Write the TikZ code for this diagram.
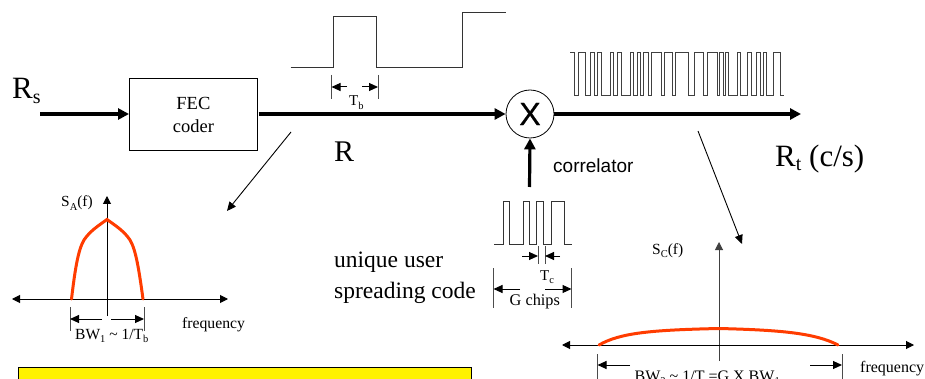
\documentclass[tikz,border=0pt]{standalone}
\usepackage{fontspec}
\setmainfont{Liberation Serif}
\newfontfamily\sansf{Liberation Sans}
\newfontfamily\xfont[FakeBold=0.6]{Liberation Sans}
\usetikzlibrary{arrows.meta}
\newcommand{\subs}[1]{\raisebox{-3.5pt}{\fontsize{10.5}{10.5}\selectfont #1}}
\tikzset{
  thick line/.style={line width=3.2pt,-{Triangle[length=11pt,width=11pt]}},
  thin arrow/.style={line width=0.9pt,-{Triangle[length=9pt,width=8pt]}},
  axis/.style={line width=1pt,{Triangle[length=8pt,width=8pt]}-{Triangle[length=8pt,width=8pt]}},
  vaxis/.style={line width=1pt,-{Triangle[length=8pt,width=8pt]}},
  dim/.style={line width=1pt,-{Triangle[length=9pt,width=8pt]}},
  tick/.style={line width=0.8pt,draw=black!70},
  wave/.style={line width=0.9pt,draw=black!80,line join=miter},
  spec/.style={line width=3pt,draw={rgb,255:red,255;green,60;blue,0},line cap=round},
  txt/.style={inner sep=0pt,font=\fontsize{#1}{#1}\selectfont},
}
\begin{document}
\begin{tikzpicture}[x=1pt,y=-1pt]
\useasboundingbox (0,0) rectangle (925,379);
\begin{scope}
\clip (0,0) rectangle (925,379);
% main nodes
\node[draw,line width=0.8pt,minimum width=128pt,minimum height=72pt,inner sep=0pt,anchor=north west,align=center,font=\fontsize{18.5}{23}\selectfont] (fec) at (129,78.5) {FEC\\coder};
\node[draw,circle,line width=0.8pt,minimum size=48pt,inner sep=0pt,font=\xfont\fontsize{32}{32}\selectfont] (corr) at (530,114) {X};
\coordinate (rsin) at (40,114);
\coordinate (fecout) at (258.5,114);
\coordinate (out) at (801,114);
\coordinate (codeup) at (529.5,187);
\draw[thick line] (rsin) -- (fec.west |- rsin);
\draw[thick line] (fecout) -- (corr.west);
\draw[thick line] (corr.east) -- (out);
\draw[thick line] (codeup) -- (corr.south);
% labels
\node[txt=31,anchor=base west] (rs) at (12,99) {R\raisebox{-5pt}{\fontsize{20}{20}\selectfont s}};
\node[txt=30,anchor=base west] (r) at (334,162) {R};
\node[txt=31,anchor=base west] (rt) at (775,167) {R\raisebox{-4pt}{\fontsize{20}{20}\selectfont t}\ (c/s)};
\node[font=\sansf\fontsize{19}{19}\selectfont,inner sep=0pt,anchor=base west] (corrlab) at (553,173) {correlator};
\node[txt=23.5,anchor=base west] (ul1) at (334,267) {unique user};
\node[txt=23.5,anchor=base west] (ul2) at (334,298) {spreading code};
% bit waveform
\draw[wave] (290.5,67.5) -- (333.5,67.5) -- (333.5,16.5) -- (376.5,16.5) -- (376.5,67.5) -- (462.5,67.5) -- (462.5,12.5) -- (506,12.5);
\coordinate (tb1) at (331.5,75); \coordinate (tb1e) at (331.5,99);
\coordinate (tb2) at (378,75); \coordinate (tb2e) at (378,99);
\draw[tick] (tb1) -- (tb1e);
\draw[tick] (tb2) -- (tb2e);
\coordinate (tbm1) at (347,87); \coordinate (tbm2) at (362,87);
\draw[dim] (tbm1) -- (tb1 |- tbm1);
\draw[dim] (tbm2) -- (tb2 |- tbm2);
\node[txt=15,anchor=base west] (tb) at (349,106) {T\subs{b}};
% chip waveform
\draw[line width=0.8pt,draw=black!75] (570,52) -- (574.5,52) -- (574.5,95) -- (578.5,95) -- (578.5,52) -- (585.5,52) -- (585.5,95) -- (590,95) -- (590,52) -- (594,52) -- (594,95) -- (597.5,95) -- (597.5,52) -- (601,52) -- (601,95) -- (610,95) -- (610,52) -- (613.5,52) -- (613.5,95) -- (617,95) -- (617,52) -- (621,52) -- (621,95) -- (630,95) -- (630,52) -- (633,52) -- (633,95) -- (637,95) -- (637,52) -- (640,52) -- (640,95) -- (643,95) -- (643,52) -- (648,52) -- (648,95) -- (651,95) -- (651,52) -- (661,52) -- (661,95) -- (664,95) -- (664,52) -- (672,52) -- (672,95) -- (675,95) -- (675,52) -- (688,52) -- (688,95) -- (694,95) -- (694,52) -- (703,52) -- (703,95) -- (707,95) -- (707,52) -- (717,52) -- (717,95) -- (719,95) -- (719,52) -- (723,52) -- (723,95) -- (725,95) -- (725,52) -- (728,52) -- (728,95) -- (737,95) -- (737,52) -- (740,52) -- (740,95) -- (747,95) -- (747,52) -- (751,52) -- (751,95) -- (756,95) -- (756,52) -- (760,52) -- (760,95) -- (763,95) -- (763,52) -- (766,52) -- (766,95) -- (773,95) -- (773,52) -- (780,52) -- (780,95) -- (784,95);
% user code waveform
\draw[wave] (494,244) -- (503,244) -- (503,201.5) -- (509,201.5) -- (509,244) -- (523,244) -- (523,201.5) -- (529,201.5) -- (529,244) -- (536,244) -- (536,201.5) -- (543,201.5) -- (543,244) -- (551,244) -- (551,201.5) -- (564,201.5) -- (564,244) -- (572,244);
\coordinate (tc1) at (538,246); \coordinate (tc1e) at (538,264);
\coordinate (tc2) at (545,246); \coordinate (tc2e) at (545,264);
\draw[tick] (tc1) -- (tc1e);
\draw[tick] (tc2) -- (tc2e);
\coordinate (tca) at (522,256); \coordinate (tcb) at (560,256);
\draw[dim] (tca) -- (tc1 |- tca);
\draw[dim] (tcb) -- (tc2 |- tcb);
\node[txt=15,anchor=base west] (tc) at (540,280) {T\subs{c}};
\coordinate (g1) at (493.5,268); \coordinate (g1e) at (493.5,308);
\coordinate (g2) at (571.5,268); \coordinate (g2e) at (571.5,308);
\draw[tick] (g1) -- (g1e);
\draw[tick] (g2) -- (g2e);
\coordinate (ga) at (520,289); \coordinate (gb) at (545,289);
\draw[dim] (ga) -- (g1 |- ga);
\draw[dim] (gb) -- (g2 |- gb);
\node[txt=16.3,anchor=base west] (gch) at (509.5,305) {G chips};
% pointer arrows
\coordinate (p1s) at (291,132); \coordinate (p1e) at (227,211);
\coordinate (p2s) at (698,131); \coordinate (p2e) at (742,244);
\draw[thin arrow] (p1s) -- (p1e);
\draw[thin arrow] (p2s) -- (p2e);
% left spectrum
\coordinate (la0) at (107,316); \coordinate (la1) at (107,196);
\coordinate (lh1) at (12,299); \coordinate (lh2) at (228,299);
\draw[vaxis] (la0) -- (la1);
\draw[axis] (lh1) -- (lh2);
\draw[spec] (71.5,299) .. controls (75,270) and (78,250) .. (84,240) .. controls (90,231) and (98,226) .. (107,219.5) .. controls (116,226) and (124,231) .. (130,240) .. controls (136,250) and (139,270) .. (143,299);
\node[txt=15.4,anchor=base west] (sa) at (61,207) {S\subs{A}(f)};
\node[txt=15.7,anchor=base west] (fr1) at (182,328) {frequency};
\coordinate (b1) at (70,307); \coordinate (b1e) at (70,331);
\coordinate (b2) at (144,307); \coordinate (b2e) at (144,331);
\draw[tick] (b1) -- (b1e);
\draw[tick] (b2) -- (b2e);
\coordinate (ba) at (102,319); \coordinate (bb) at (111,319);
\draw[dim] (ba) -- (b1 |- ba);
\draw[dim] (bb) -- (b2 |- bb);
\node[txt=15.5,anchor=base west] (bw1) at (75,339) {BW\subs{1} \string~ 1/T\subs{b}};
% right spectrum
\coordinate (ra0) at (719,361); \coordinate (ra1) at (719,242);
\coordinate (rh1) at (562,345); \coordinate (rh2) at (914,345);
\draw[vaxis,draw=black!75] (ra0) -- (ra1);
\draw[axis] (rh1) -- (rh2);
\draw[spec] (599,345) .. controls (620,333) and (650,330) .. (719,328.5) .. controls (780,330) and (815,333) .. (838,345);
\node[txt=15.5,anchor=base west] (sc) at (652,254) {S\subs{C}(f)};
\node[txt=16,anchor=base west] (fr2) at (860,372.5) {frequency};
\coordinate (c1) at (597.5,354); \coordinate (c1e) at (597.5,379);
\coordinate (c2) at (842,354); \coordinate (c2e) at (842,379);
\draw[tick] (c1) -- (c1e);
\draw[tick] (c2) -- (c2e);
\coordinate (ca) at (630,365); \coordinate (cb) at (810,365);
\draw[dim] (ca) -- (c1 |- ca);
\draw[dim] (cb) -- (c2 |- cb);
\node[txt=16,anchor=base west] (bw2) at (634.5,381) {BW\subs{2} \string~ 1/T =G X BW\subs{1}};
% yellow box
\node[draw,fill=yellow,line width=0.9pt,anchor=north west,minimum width=453pt,minimum height=40pt,inner sep=0pt] (ybox) at (18,366.5) {};
\end{scope}
\end{tikzpicture}
\end{document}
